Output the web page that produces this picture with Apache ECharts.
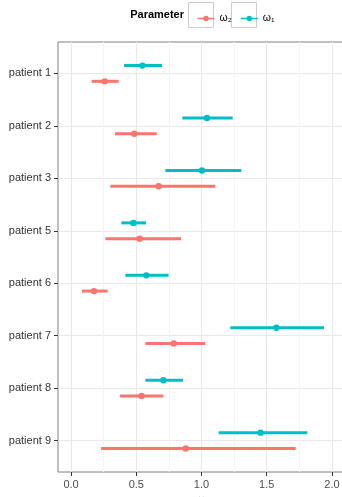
<!DOCTYPE html>
<html><head><meta charset="utf-8">
<script src="https://cdn.jsdelivr.net/npm/echarts@6/dist/echarts.min.js"></script>
<style>html,body{margin:0;padding:0;background:#fff}#c{width:342px;height:497px}</style>
</head><body><div id="c"></div>
<script>
const patients = ['patient 1','patient 2','patient 3','patient 5','patient 6','patient 7','patient 8','patient 9'];
const omega1Mean = [0.547,1.042,1.004,0.478,0.577,1.574,0.708,1.453];
const omega1Low  = [0.406,0.853,0.723,0.386,0.416,1.221,0.570,1.132];
const omega1High = [0.697,1.239,1.305,0.575,0.748,1.939,0.858,1.811];
const omega2Mean = [0.258,0.485,0.672,0.526,0.176,0.787,0.541,0.879];
const omega2Low  = [0.158,0.337,0.301,0.263,0.084,0.570,0.374,0.230];
const omega2High = [0.365,0.657,1.106,0.843,0.281,1.029,0.708,1.722];
const xTicks = [0, 0.5, 1, 1.5, 2];
const xMinor = [0.25, 0.75, 1.25, 1.75];

const RED = '#F8766D', TEAL = '#00BFC4';
const FONT = '"Liberation Sans", Arial, sans-serif';
const chart = echarts.init(document.getElementById('c'), null, {renderer:'canvas'});
const catIdx = patients.map((p,i)=>i);

function mk(name, color, low, mean, high, dodge){
  return {
    name, type:'custom', xAxisIndex:0, yAxisIndex:0, z:5,
    itemStyle:{color:color},
    data: patients.map((p,i)=>[low[i], mean[i], high[i], i]),
    encode:{x:[0,1,2], y:3},
    renderItem(params, api){
      const y = api.value(3) + dodge;
      const a = api.coord([api.value(0), y]);
      const b = api.coord([api.value(2), y]);
      const c = api.coord([api.value(1), y]);
      return {type:'group', children:[
        {type:'line', shape:{x1:a[0],y1:a[1],x2:b[0],y2:b[1]}, style:{stroke:color, lineWidth:3}},
        {type:'circle', shape:{cx:c[0],cy:c[1],r:3.2}, style:{fill:color}}
      ]};
    }
  };
}
const icon = 'path://M0,2.2 L17,2.2 L17,3.8 L0,3.8 Z M8.5,0.3 A2.7,2.7 0 1,1 8.49,0.3 Z';

chart.setOption({
  animation:false,
  grid:{left:58, top:42, width:287, bottom:25, show:true, borderColor:'#7f7f7f', borderWidth:1, containLabel:false, outerBoundsMode:'none'},
  graphic:[
    {type:'text', x:184, y:15, style:{text:'Parameter', font:'bold 11px ' + FONT, fill:'#000', align:'right', verticalAlign:'middle'}},
    {type:'rect', x:188.5, y:2.5, shape:{width:25, height:25}, style:{fill:'#fff', stroke:'#cccccc', lineWidth:1}, z:-1},
    {type:'rect', x:231.5, y:2.5, shape:{width:25, height:25}, style:{fill:'#fff', stroke:'#cccccc', lineWidth:1}, z:-1}
  ],
  legend:{
    data:['ω₂','ω₁'], left:192.5, top:8, itemWidth:17, itemHeight:6, itemGap:9, icon:icon,
    textStyle:{fontSize:10.5, color:'#000', fontFamily:FONT},
    selectedMode:false
  },
  xAxis:{
    type:'value', min:-0.1, max:2.1, name:'ω', nameLocation:'middle', nameGap:19,
    nameTextStyle:{fontSize:11, color:'#000', fontFamily:FONT},
    axisLine:{show:false, onZero:false},
    axisTick:{show:true, customValues:xTicks, length:4, lineStyle:{color:'#333'}},
    axisLabel:{customValues:xTicks, formatter:v=>v.toFixed(1), margin:7, fontSize:11, color:'#4d4d4d', fontFamily:FONT},
    splitLine:{show:true, lineStyle:{color:'#e8e8e8', width:1}}
  },
  yAxis:{
    type:'value', min:-0.6, max:7.6, inverse:true,
    axisLine:{show:false, onZero:false},
    axisTick:{show:true, customValues:catIdx, length:4, lineStyle:{color:'#333'}},
    axisLabel:{customValues:catIdx, formatter:v=>patients[Math.round(v)], margin:7, fontSize:11, color:'#333', fontFamily:FONT},
    splitLine:{show:true, lineStyle:{color:'#e8e8e8', width:1}}
  },
  series:[
    mk('ω₂', RED, omega2Low, omega2Mean, omega2High, 0.15),
    mk('ω₁', TEAL, omega1Low, omega1Mean, omega1High, -0.15),
    {type:'line', data:[], silent:true, z:1, markLine:{silent:true, symbol:'none', label:{show:false},
      lineStyle:{color:'#f4f4f4', width:1, type:'solid'}, data: xMinor.map(v=>({xAxis:v}))}}
  ]
});
</script></body></html>
